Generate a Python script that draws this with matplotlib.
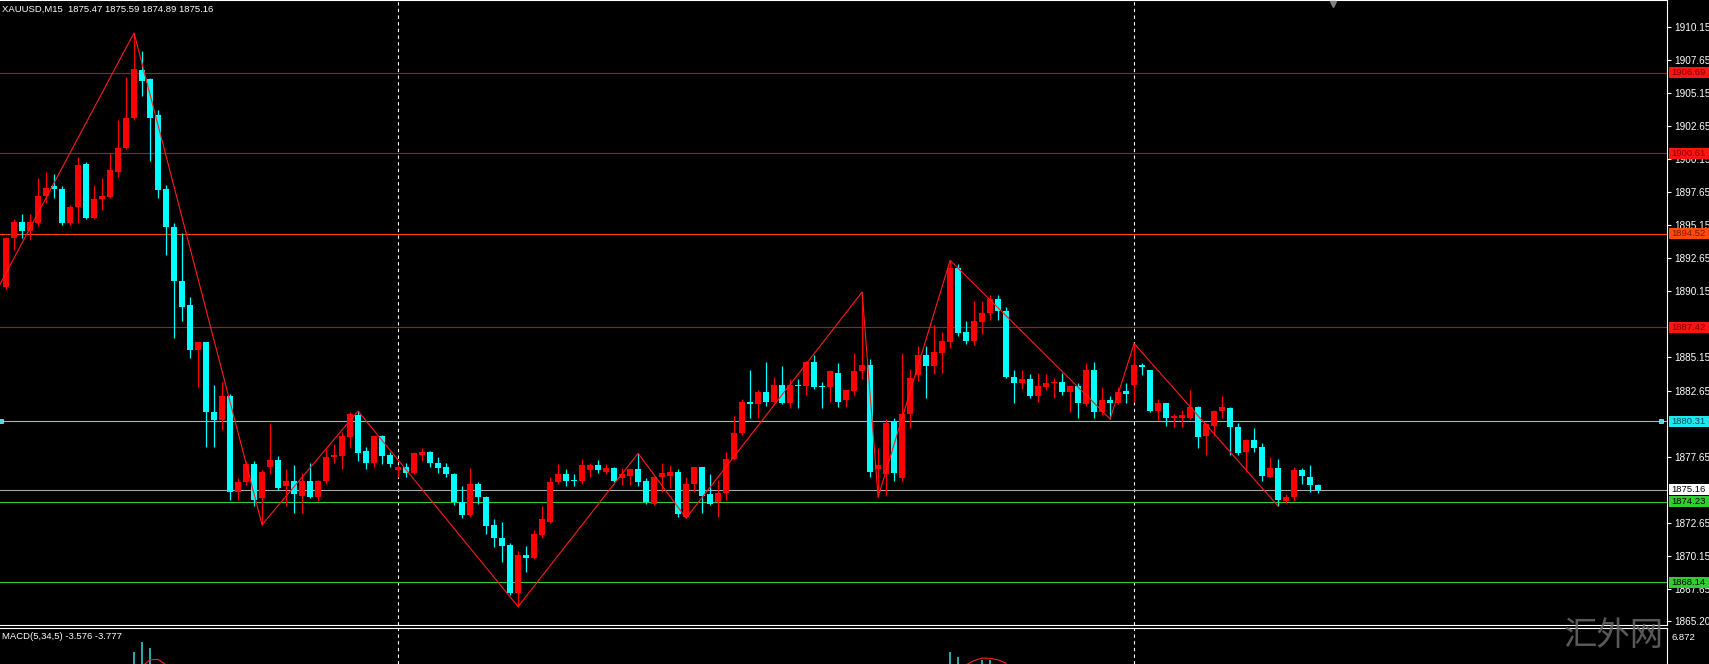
import matplotlib
matplotlib.use('Agg')
import matplotlib.pyplot as plt
from matplotlib.patches import Rectangle
from matplotlib.transforms import blended_transform_factory

plt.rcParams['font.family'] = ['Liberation Sans', 'DejaVu Sans']

# --- data (XAUUSD M15) ---
opens = [1890.5, 1894.2, 1895.4, 1894.7, 1895.3, 1897.4, 1898.1, 1897.9, 1895.3, 1896.5,
         1899.8, 1895.7, 1897.1, 1897.3, 1899.2, 1901.0, 1903.3, 1906.9, 1906.2, 1903.5,
         1897.9, 1895.0, 1890.95, 1889.1, 1885.7, 1886.3, 1881.0, 1880.4, 1882.2, 1875.0,
         1875.7, 1877.1, 1874.5, 1876.9, 1877.4, 1875.4, 1875.8, 1874.7, 1875.8, 1874.6,
         1875.8, 1877.6, 1877.7, 1879.1, 1880.8, 1878.1, 1877.2, 1879.2, 1877.8, 1876.6,
         1876.9, 1876.4, 1877.8, 1878.0, 1877.2, 1876.9, 1876.3, 1874.2, 1873.2, 1875.6,
         1874.6, 1872.5, 1871.5, 1871.0, 1867.3, 1870.2, 1870.0, 1871.7, 1872.7, 1875.7,
         1876.3, 1875.9, 1875.8, 1876.6, 1877.0, 1876.5, 1876.8, 1876.0, 1876.2, 1876.7,
         1875.8, 1874.1, 1876.1, 1876.2, 1876.5, 1873.1, 1875.6, 1876.9, 1874.8, 1874.2,
         1874.9, 1877.5, 1879.4, 1881.8, 1881.6, 1882.5, 1881.8, 1883.1, 1881.7, 1883.1,
         1883.0, 1884.8, 1883.0, 1882.9, 1884.0, 1881.9, 1882.6, 1884.1, 1884.6, 1876.7,
         1876.3, 1880.3, 1876.0, 1880.9, 1883.8, 1885.3, 1884.5, 1885.5, 1886.3, 1891.9,
         1887.1, 1886.4, 1887.8, 1888.5, 1889.6, 1888.7, 1883.7, 1883.2, 1883.5, 1882.2,
         1882.9, 1883.2, 1883.3, 1882.5, 1883.0, 1881.6, 1884.2, 1881.0, 1881.9, 1881.7,
         1882.6, 1883.1, 1884.6, 1884.2, 1881.1, 1881.7, 1880.6, 1880.6, 1880.6, 1881.4,
         1879.2, 1880.0, 1881.1, 1881.3, 1879.9, 1878.0, 1878.9, 1878.4, 1876.1, 1876.8,
         1874.3, 1874.6, 1876.6, 1876.1, 1875.47]
highs = [1894.3, 1895.6, 1896.0, 1896.0, 1898.7, 1899.2, 1899.0, 1898.1, 1896.7, 1900.3,
         1899.9, 1898.2, 1898.7, 1900.6, 1903.1, 1906.4, 1909.7, 1908.3, 1906.3, 1903.9,
         1898.2, 1895.3, 1894.6, 1889.7, 1886.3, 1886.3, 1883.1, 1883.3, 1882.4, 1876.0,
         1877.3, 1877.3, 1876.6, 1880.2, 1877.7, 1876.7, 1877.0, 1876.4, 1877.2, 1875.9,
         1878.2, 1878.6, 1879.5, 1881.0, 1881.1, 1878.4, 1879.3, 1879.3, 1878.0, 1877.0,
         1877.2, 1878.0, 1878.3, 1878.1, 1877.6, 1877.2, 1876.4, 1875.4, 1876.8, 1875.7,
         1874.7, 1872.9, 1872.7, 1871.1, 1870.5, 1870.9, 1872.1, 1873.9, 1876.1, 1877.1,
         1876.7, 1876.3, 1877.5, 1877.2, 1877.4, 1877.1, 1876.9, 1876.8, 1876.8, 1877.9,
         1876.0, 1876.2, 1877.2, 1877.0, 1876.7, 1876.1, 1876.9, 1876.9, 1876.3, 1875.9,
         1878.0, 1880.7, 1882.0, 1884.2, 1882.7, 1884.8, 1883.7, 1884.5, 1883.5, 1883.5,
         1884.9, 1885.3, 1883.3, 1884.2, 1884.7, 1882.7, 1885.5, 1890.1, 1885.0, 1878.3,
         1880.5, 1880.6, 1885.5, 1884.3, 1886.0, 1886.0, 1887.6, 1887.1, 1892.5, 1892.2,
         1887.9, 1889.4, 1889.4, 1889.9, 1889.9, 1889.0, 1884.2, 1884.2, 1883.9, 1884.0,
         1883.9, 1883.6, 1884.0, 1883.0, 1883.2, 1884.7, 1884.8, 1882.9, 1882.2, 1882.9,
         1883.2, 1886.2, 1884.7, 1884.2, 1882.0, 1881.7, 1880.9, 1881.2, 1882.7, 1881.5,
         1880.2, 1881.2, 1882.2, 1881.4, 1880.2, 1879.0, 1879.8, 1878.7, 1877.6, 1877.5,
         1874.8, 1876.9, 1876.8, 1877.0, 1875.59]
lows = [1890.3, 1893.3, 1894.2, 1894.0, 1895.1, 1896.8, 1897.2, 1895.2, 1895.2, 1895.3,
        1895.6, 1895.6, 1896.3, 1897.2, 1898.8, 1900.9, 1903.1, 1904.9, 1900.0, 1897.2,
        1892.9, 1886.6, 1887.9, 1885.1, 1882.9, 1878.4, 1878.4, 1879.7, 1874.4, 1874.4,
        1875.5, 1873.9, 1872.5, 1876.3, 1875.1, 1873.9, 1873.4, 1873.4, 1874.5, 1874.3,
        1875.6, 1877.2, 1876.7, 1878.3, 1877.3, 1876.7, 1876.9, 1877.1, 1876.9, 1876.1,
        1876.1, 1876.3, 1877.3, 1876.9, 1876.4, 1876.1, 1874.0, 1873.0, 1873.1, 1874.1,
        1871.8, 1870.8, 1869.7, 1867.2, 1866.3, 1868.9, 1869.9, 1871.5, 1872.6, 1875.6,
        1875.4, 1875.4, 1875.6, 1876.1, 1876.4, 1876.3, 1875.7, 1875.5, 1875.5, 1875.4,
        1874.1, 1874.0, 1875.0, 1875.3, 1873.1, 1873.0, 1875.0, 1873.4, 1874.0, 1873.1,
        1874.4, 1877.4, 1879.3, 1880.6, 1880.6, 1881.5, 1881.7, 1881.6, 1881.3, 1881.3,
        1882.3, 1882.8, 1881.3, 1881.8, 1881.4, 1881.4, 1882.3, 1883.5, 1876.1, 1874.6,
        1874.7, 1875.8, 1875.8, 1879.8, 1883.4, 1882.1, 1883.9, 1884.0, 1885.9, 1886.8,
        1886.2, 1886.1, 1886.9, 1888.0, 1888.0, 1883.6, 1881.7, 1882.8, 1882.1, 1881.8,
        1882.7, 1882.1, 1882.3, 1881.0, 1880.6, 1881.5, 1880.6, 1880.8, 1880.5, 1881.6,
        1881.7, 1881.8, 1883.8, 1881.0, 1880.4, 1880.0, 1879.9, 1879.9, 1880.5, 1878.3,
        1877.8, 1879.2, 1880.6, 1877.8, 1877.8, 1876.5, 1878.0, 1875.8, 1876.1, 1873.9,
        1874.1, 1874.3, 1875.6, 1875.0, 1874.89]
closes = [1894.2, 1895.4, 1894.7, 1895.4, 1897.4, 1898.0, 1897.9, 1895.3, 1896.5, 1899.7,
          1895.7, 1897.1, 1897.4, 1899.3, 1901.0, 1903.3, 1907.0, 1906.1, 1903.3, 1897.8,
          1895.0, 1890.9, 1889.0, 1885.7, 1886.3, 1881.0, 1880.4, 1882.2, 1875.0, 1875.7,
          1877.1, 1874.4, 1876.5, 1877.4, 1875.3, 1875.8, 1874.8, 1875.8, 1874.6, 1875.8,
          1877.6, 1877.8, 1879.2, 1880.9, 1877.9, 1877.2, 1879.2, 1877.7, 1877.1, 1876.9,
          1876.4, 1877.9, 1878.0, 1877.2, 1876.8, 1876.3, 1874.2, 1873.2, 1875.6, 1874.6,
          1872.4, 1871.5, 1870.9, 1867.3, 1870.2, 1870.0, 1871.8, 1872.9, 1875.7, 1876.3,
          1875.8, 1875.8, 1877.0, 1877.0, 1876.6, 1876.8, 1875.8, 1876.3, 1876.7, 1875.7,
          1874.2, 1876.1, 1876.4, 1876.5, 1873.3, 1875.6, 1876.9, 1874.7, 1874.1, 1874.9,
          1877.5, 1879.4, 1881.8, 1881.6, 1882.5, 1881.8, 1883.1, 1881.7, 1883.1, 1883.0,
          1884.8, 1882.9, 1882.9, 1884.1, 1881.8, 1882.7, 1884.1, 1884.6, 1876.5, 1877.0,
          1880.2, 1876.4, 1880.9, 1883.6, 1885.3, 1884.5, 1885.6, 1886.4, 1891.9, 1887.0,
          1886.4, 1887.9, 1888.5, 1889.6, 1888.7, 1883.7, 1883.2, 1883.5, 1882.2, 1883.0,
          1883.2, 1883.3, 1882.5, 1883.0, 1881.7, 1884.2, 1881.0, 1881.9, 1881.7, 1882.5,
          1882.4, 1884.6, 1884.4, 1881.1, 1881.7, 1880.6, 1880.7, 1880.8, 1881.4, 1879.1,
          1880.1, 1881.1, 1881.4, 1879.9, 1877.9, 1878.9, 1878.3, 1876.2, 1876.8, 1874.4,
          1874.6, 1876.6, 1876.2, 1875.5, 1875.16]

# zigzag turning points (bar index, price)
zz_idx = [-1, 16, 32, 44, 64, 79, 85, 107, 109, 118, 138, 141, 159]
zz_price = [1890.4, 1909.7, 1872.5, 1881.1, 1866.3, 1877.9, 1873.0, 1890.1, 1874.6,
            1892.5, 1880.5, 1886.2, 1873.9]

# horizontal levels
levels = [1906.69, 1900.61, 1894.52, 1887.42, 1880.31, 1874.23, 1868.14]
level_colors = ['#e00000', '#e00000', '#ff4500', '#e00000', '#48dce4', '#32cd32', '#32cd32']
label_bg = ['#ff1414', '#ff1414', '#ff4a0a', '#ff1414', '#1ee8f0', '#32cd32', '#32cd32']
label_text_colors = ['#7a0000', '#7a0000', '#7a1a00', '#7a0000', '#004a5a', '#000000', '#000000']
bid = 1875.16

# scale ticks (the ones hidden under the level labels are left out)
price_ticks = [1910.15, 1907.65, 1905.15, 1902.65, 1900.15, 1897.65, 1895.15, 1892.65,
               1890.15, 1885.15, 1882.65, 1877.65, 1872.65, 1870.15, 1867.65, 1865.20]

separators = [49, 141]

# MACD sub-window (only the peaks that reach into the visible strip)
macd_idx = [15, 16, 17, 18, 19, 117, 118, 119, 120, 122, 123]
macd_hist = [1.5, 3.6, 4.9, 4.1, 1.8, 1.6, 3.6, 2.9, 1.8, 2.5, 2.5]
sig_idx = [17, 18, 19, 20, 120, 121, 122, 123, 124, 125]
sig_vals = [1.7, 2.55, 2.62, 1.9, 1.9, 2.45, 2.8, 2.75, 2.55, 2.1]

# --- figure ---
W, H = 1709, 664
fig = plt.figure(figsize=(W / 100, H / 100), dpi=100, facecolor='black')
ax = fig.add_axes([0, 39.5 / H, 1667 / W, 624.5 / H], facecolor='black')
mx = fig.add_axes([0, 0, 1667 / W, 36.5 / H], facecolor='black')

xs = list(range(len(opens)))
up_col, dn_col = '#ff0000', '#00ffff'
cols = [up_col if c >= o else dn_col for o, c in zip(opens, closes)]
bottoms = [min(o, c) for o, c in zip(opens, closes)]
heights = [max(abs(c - o), 0.08) for o, c in zip(opens, closes)]

ax.vlines(xs, lows, highs, colors=cols, lw=0.9, zorder=3)
ax.bar(xs, heights, bottom=bottoms, width=0.7, color=cols, lw=0, zorder=4)

ax.plot(zz_idx, zz_price, color='#ff1a1a', lw=0.8, zorder=5)

for lv, c in zip(levels, level_colors):
    ax.axhline(lv, color=c, lw=0.8, zorder=2)
ax.axhline(bid, color='#a8a8a8', lw=0.8, zorder=2)

for s in separators:
    ax.axvline(s, color='white', lw=0.8, ls=(0, (3, 3)), zorder=1)
    mx.axvline(s, color='white', lw=0.8, ls=(0, (3, 3)), zorder=1)

# little squares on the cyan level
ax.plot([-0.6, 206.9], [1880.31, 1880.31], ls='none', marker='s', ms=3,
        color='#48dce4', mec='white', mew=0.4, clip_on=False, zorder=6)

# chart-shift marker
shift_tr = blended_transform_factory(ax.transData, ax.transAxes)
ax.plot([165.8], [0.993], marker='v', ms=5, color='#808080', transform=shift_tr,
        clip_on=False, zorder=6)

ax.set_xlim(-0.75, 207.6)
ax.set_ylim(1864.95, 1912.19)
ax.set_xticks([])
ax.yaxis.tick_right()
ax.set_yticks(price_ticks)
ax.set_yticklabels([f'{t:.2f}' for t in price_ticks])
ax.tick_params(axis='y', colors='white', labelsize=7.2, length=3, width=0.8, pad=2)
ax.spines['left'].set_visible(False)
for side in ['top', 'right', 'bottom']:
    ax.spines[side].set_color('white')
    ax.spines[side].set_linewidth(0.8)

# price labels on the scale
lab_tr = blended_transform_factory(fig.transFigure, ax.transData)
box_h = 11 / 13.23
for lv, c, tc in zip(levels + [bid], label_bg + ['#ffffff'],
                     label_text_colors + ['#000000']):
    ax.add_patch(Rectangle((1669 / W, lv - box_h / 2), 40 / W, box_h, transform=lab_tr,
                           facecolor=c, edgecolor='none', clip_on=False, zorder=8))
    ax.text(1671 / W, lv, f'{lv:.2f}', transform=lab_tr, ha='left', va='center',
            color=tc, fontsize=6.8, clip_on=False, zorder=9)

ax.text(2 / 1667, 1 - 9 / 625, 'XAUUSD,M15  1875.47 1875.59 1874.89 1875.16',
        transform=ax.transAxes, color='white', fontsize=6.8, ha='left', va='center')

# MACD window
mx.bar(macd_idx, macd_hist, width=0.22, color='#2aa6a6', zorder=3)
mx.plot(sig_idx, sig_vals, color='#ff2020', lw=0.8, zorder=4)
mx.set_xlim(-0.75, 207.6)
mx.set_ylim(2.0, 6.872)
mx.set_xticks([])
mx.set_yticks([])
mx.spines['left'].set_visible(False)
mx.spines['bottom'].set_visible(False)
for side in ['top', 'right']:
    mx.spines[side].set_color('white')
    mx.spines[side].set_linewidth(0.8)
mx.text(2 / 1667, 0.75, 'MACD(5,34,5) -3.576 -3.777', transform=mx.transAxes,
        color='white', fontsize=6.8, ha='left', va='center')
fig.text(1672 / W, 1 - 637 / H, '6.872', color='white', fontsize=6.8,
         ha='left', va='center')

# watermark
fig.text(1614 / W, 1 - 635 / H, '汇外网', color='#6a6a6a', fontsize=24, alpha=0.85,
         family=['Noto Sans CJK SC', 'DejaVu Sans'], ha='center', va='center', zorder=20)

fig.savefig('out.png', dpi=100, facecolor='black')
